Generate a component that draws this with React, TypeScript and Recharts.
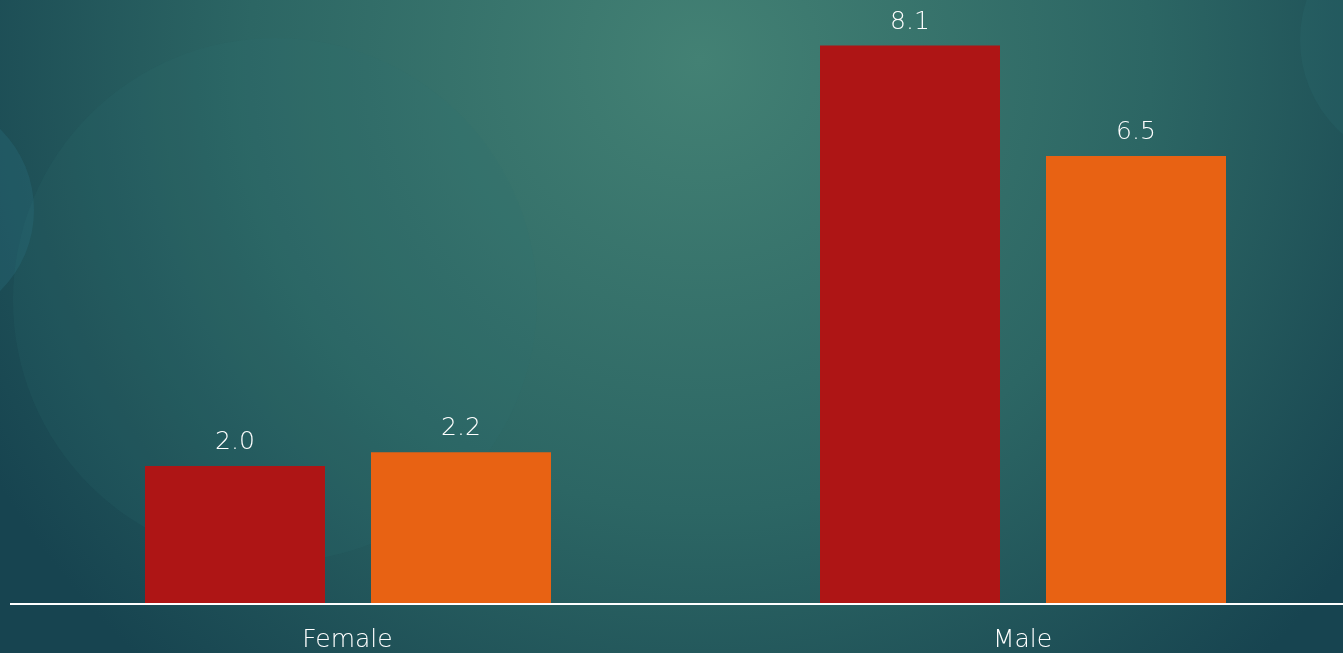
import React from 'react';
import { BarChart, Bar, XAxis, YAxis, LabelList } from 'recharts';

const categories = ['Female', 'Male'];
const seriesA = [2.0, 8.1];
const seriesB = [2.2, 6.5];

const data = categories.map((c, i) => ({ name: c, a: seriesA[i], b: seriesB[i] }));

const FONT = '"DejaVu Sans", sans-serif';
const TEXT = '#ffffff';

export default function App() {
  return (
    <div style={{ position: 'fixed', left: 0, top: 0, width: 1343, height: 653, overflow: 'hidden' }}>
      <svg width={1343} height={653} style={{ position: 'absolute', left: 0, top: 0 }}>
        <defs>
          <radialGradient id="bg" cx="700" cy="60" r="820" gradientUnits="userSpaceOnUse">
            <stop offset="0" stopColor="#438174" />
            <stop offset="0.55" stopColor="#2c6664" />
            <stop offset="1" stopColor="#174450" />
          </radialGradient>
        </defs>
        <rect x={0} y={0} width={1343} height={653} fill="url(#bg)" />
        <circle cx={275} cy={300} r={262} fill="#2f7474" opacity={0.15} />
        <circle cx={-80} cy={210} r={114} fill="#2a7080" opacity={0.3} />
        <circle cx={1425} cy={40} r={125} fill="#2a6a70" opacity={0.25} />
      </svg>
      <div style={{ position: 'absolute', left: 0, top: 0 }}>
        <BarChart
          width={1360}
          height={653}
          data={data}
          margin={{ top: 18, right: 0, left: 10, bottom: 0 }}
          barCategoryGap="20%"
          barGap={46}
        >
          <XAxis
            dataKey="name"
            height={49}
            axisLine={{ stroke: '#ffffff', strokeWidth: 2 }}
            tickLine={false}
            tickMargin={19}
            tick={{ fill: TEXT, fontSize: 25, fontFamily: FONT, fontWeight: 200 }}
          />
          <YAxis hide domain={[0, 8.5]} />
          <Bar dataKey="a" fill="#ae1515" isAnimationActive={false}>
            <LabelList
              dataKey="a"
              position="top"
              offset={17}
              formatter={(v: number) => v.toFixed(1)}
              style={{ fill: TEXT, fontSize: 25, fontFamily: FONT, fontWeight: 200 }}
            />
          </Bar>
          <Bar dataKey="b" fill="#e86213" isAnimationActive={false}>
            <LabelList
              dataKey="b"
              position="top"
              offset={17}
              formatter={(v: number) => v.toFixed(1)}
              style={{ fill: TEXT, fontSize: 25, fontFamily: FONT, fontWeight: 200 }}
            />
          </Bar>
        </BarChart>
      </div>
    </div>
  );
}
